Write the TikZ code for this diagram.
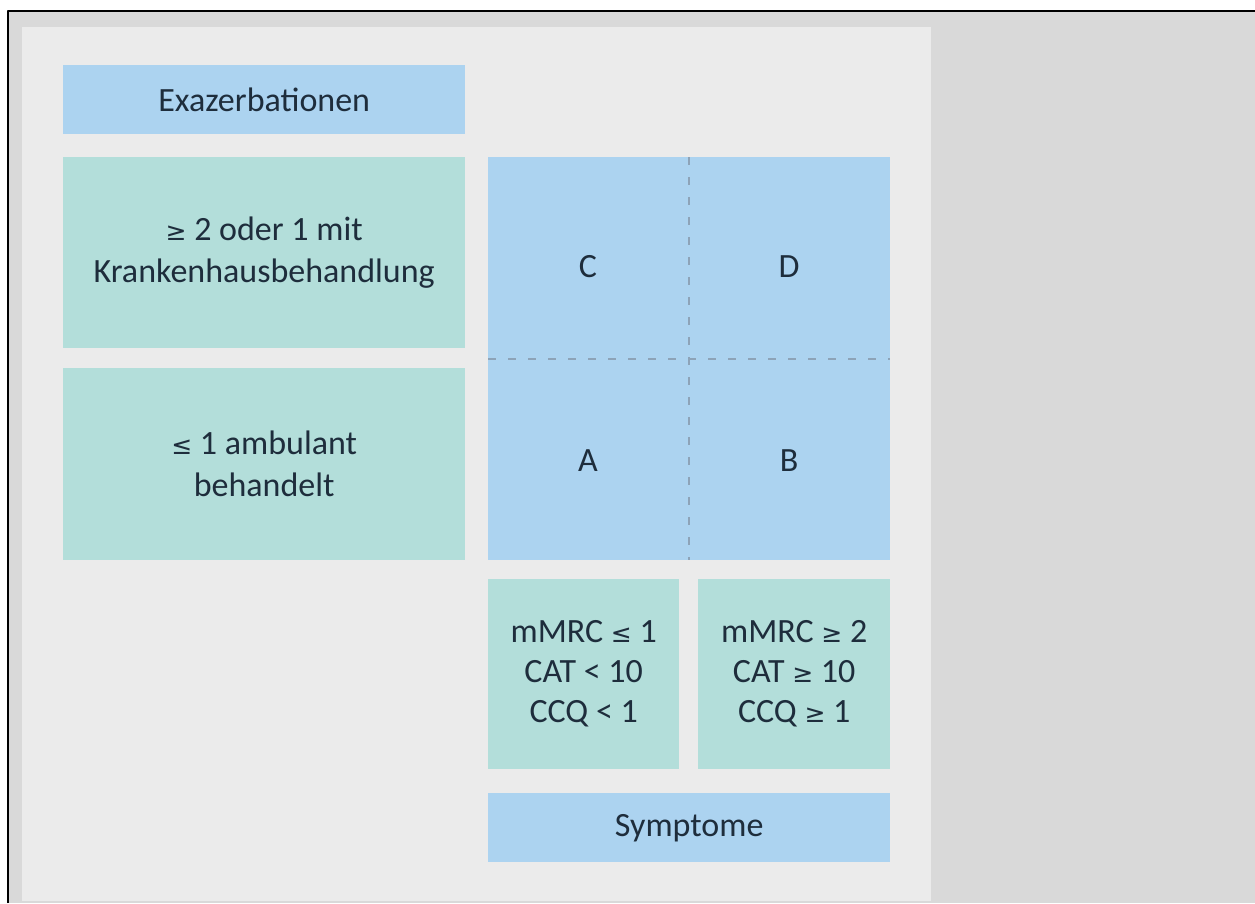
\documentclass[tikz,border=0pt]{standalone}
\usepackage{fontspec}
\setmainfont{Carlito}
\newfontfamily\symbolschrift{DejaVu Sans}
\usetikzlibrary{positioning}
\definecolor{hintergrund}{HTML}{D9D9D9}
\definecolor{feld}{HTML}{EBEBEB}
\definecolor{hellblau}{HTML}{ACD3F0}
\definecolor{hellgruen}{HTML}{B3DEDA}
\definecolor{schrift}{HTML}{1E2D3C}
\definecolor{trenn}{HTML}{8DA3B8}
\newcommand\gr{{\symbolschrift\fontsize{25}{40}\selectfont ≥}}
\newcommand\kl{{\symbolschrift\fontsize{25}{40}\selectfont ≤}}
\tikzset{
  kasten/.style={anchor=north west, inner sep=0pt, align=center, text=schrift,
    font=\fontsize{34}{42}\selectfont},
  blaukasten/.style={kasten, fill=hellblau},
  gruenkasten/.style={kasten, fill=hellgruen},
  trennlinie/.style={draw=trenn, line width=1.8pt, dash pattern=on 8pt off 12pt}
}
\begin{document}
\begin{tikzpicture}[x=1pt, y=-1pt, line join=round]
  % Rahmen und Hintergrund
  \useasboundingbox (0,0) rectangle (1255,903);
  \fill[white] (0,0) rectangle (1255,903);
  \fill[hintergrund] (8,11) rectangle (1255,903);
  \draw[line width=2.2pt] (8,903) -- (8,11) -- (1255,11);
  \fill[feld] (22,27) rectangle (931,901);
  % Exazerbationen (links)
  \node[blaukasten, minimum width=402pt, minimum height=69pt] (exa) at (63,65) {Exazerbationen};
  \node[gruenkasten, minimum width=402pt, minimum height=191pt] (exahoch) at (63,157)
    {\gr{} 2 oder 1 mit\\Krankenhausbehandlung};
  \node[gruenkasten, minimum width=402pt, minimum height=192pt] (exaniedrig) at (63,368)
    {\kl{} 1 ambulant\\behandelt};
  % Gruppen A bis D
  \node[blaukasten, minimum width=402pt, minimum height=403pt] (raster) at (488,157) {};
  \draw[trennlinie] (raster.north) -- (raster.south);
  \draw[trennlinie] (raster.west) -- (raster.east);
  \node[kasten, anchor=center] (gc) at (588,267) {C};
  \node[kasten, anchor=center] (gd) at (789,267) {D};
  \node[kasten, anchor=center] (ga) at (588,461) {A};
  \node[kasten, anchor=center] (gb) at (789,461) {B};
  % Symptome (unten)
  \node[gruenkasten, minimum width=191pt, minimum height=190pt, font=\fontsize{34}{40}\selectfont] (symniedrig) at (488,579)
    {mMRC \kl{} 1\\CAT < 10\\CCQ < 1};
  \node[gruenkasten, minimum width=192pt, minimum height=190pt, font=\fontsize{34}{40}\selectfont] (symhoch) at (698,579)
    {mMRC \gr{} 2\\CAT \gr{} 10\\CCQ \gr{} 1};
  \node[blaukasten, minimum width=402pt, minimum height=69pt] (sym) at (488,793) {Symptome};
\end{tikzpicture}
\end{document}
